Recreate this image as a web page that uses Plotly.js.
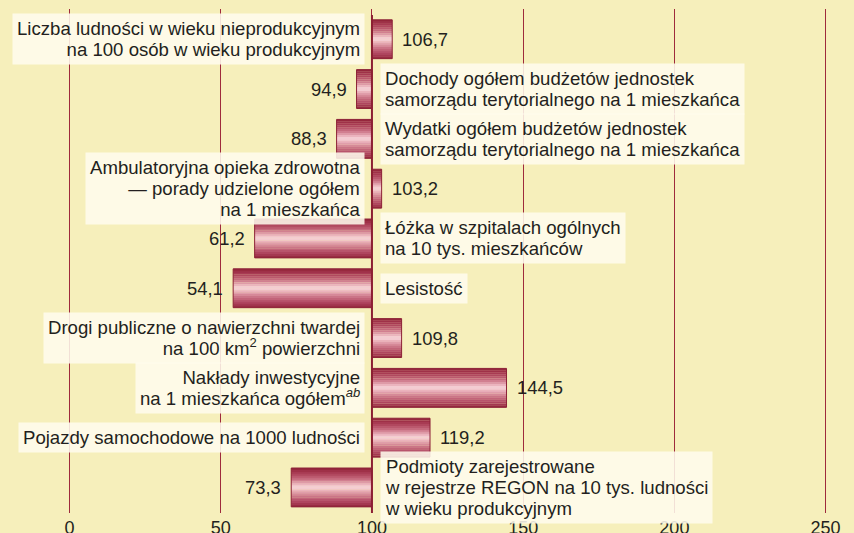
<!DOCTYPE html>
<html><head><meta charset="utf-8">
<script src="https://cdn.plot.ly/plotly-3.0.1.min.js"></script>
<style>html,body{margin:0;padding:0;background:#f6efbb}</style>
</head><body><div id="chart" style="width:854px;height:533px"></div>
<script>
// ---- data ----
const categories = [
  ['Liczba ludności w wieku nieprodukcyjnym', 'na 100 osób w wieku produkcyjnym'],
  ['Dochody ogółem budżetów jednostek', 'samorządu terytorialnego na 1 mieszkańca'],
  ['Wydatki ogółem budżetów jednostek', 'samorządu terytorialnego na 1 mieszkańca'],
  ['Ambulatoryjna opieka zdrowotna', '— porady udzielone ogółem', 'na 1 mieszkańca'],
  ['Łóżka w szpitalach ogólnych', 'na 10 tys. mieszkańców'],
  ['Lesistość'],
  ['Drogi publiczne o nawierzchni twardej', 'na 100 km<sup>2</sup> powierzchni'],
  ['Nakłady inwestycyjne', 'na 1 mieszkańca ogółem<sup><i>ab</i></sup>'],
  ['Pojazdy samochodowe na 1000 ludności'],
  ['Podmioty zarejestrowane', 'w rejestrze REGON na 10 tys. ludności', 'w wieku produkcyjnym']
];
const values = [106.7, 94.9, 88.3, 103.2, 61.2, 54.1, 109.8, 144.5, 119.2, 73.3];
const valueLabels = ['106,7', '94,9', '88,3', '103,2', '61,2', '54,1', '109,8', '144,5', '119,2', '73,3'];
const xTicks = [0, 50, 100, 150, 200, 250];
const baseValue = 100;

// ---- style ----
const FONT = 'Liberation Sans, Arial, sans-serif';
const GLYPH = 18.6;     // visible label font size
const LINE_BASE = 16.2; // base size that sets the line spacing
const BAR_W = 0.78;
const N = 20;
const stops = [
  [0.00, [146, 34, 56]],
  [0.15, [172, 64, 88]],
  [0.30, [202, 114, 132]],
  [0.42, [234, 178, 188]],
  [0.50, [247, 216, 220]],
  [0.58, [234, 176, 186]],
  [0.72, [204, 118, 136]],
  [0.87, [176, 70, 96]],
  [1.00, [148, 38, 60]]
];
function colorAt(t) {
  for (let i = 0; i < stops.length - 1; i++) {
    const [a, ca] = stops[i], [b, cb] = stops[i + 1];
    if (t >= a && t <= b) {
      const f = (t - a) / (b - a);
      const c = ca.map((v, k) => Math.round(v + (cb[k] - v) * f));
      return 'rgb(' + c.join(',') + ')';
    }
  }
  return 'rgb(' + stops[stops.length - 1][1].join(',') + ')';
}

const catKeys = categories.map(lines => lines.join(' '));
const diffs = values.map(v => v - baseValue);
const traces = [];
for (let i = 0; i < N; i++) {
  const t0 = i / N, t1 = (i + 1) / N;
  traces.push({
    type: 'bar', orientation: 'h',
    y: catKeys, x: diffs, base: baseValue,
    width: BAR_W / N + 0.004,
    offset: -BAR_W / 2 + t0 * BAR_W,
    marker: {color: colorAt((t0 + t1) / 2), line: {width: 0}},
    hoverinfo: 'skip', showlegend: false
  });
}
traces.push({
  type: 'bar', orientation: 'h',
  y: catKeys, x: diffs, base: baseValue,
  width: BAR_W, offset: -BAR_W / 2,
  marker: {color: 'rgba(0,0,0,0)', line: {width: 1, color: '#8c2236'}},
  hoverinfo: 'skip', showlegend: false
});

const annotations = [];
const txtColor = '#231f20';
categories.forEach((lines, i) => {
  const above = values[i] > baseValue;
  const txt = lines.map(l => '<span style="font-size:' + GLYPH + 'px">' + l + '</span>').join('<br>');
  annotations.push({
    x: baseValue, y: catKeys[i], xref: 'x', yref: 'y',
    text: txt, showarrow: false,
    xanchor: above ? 'right' : 'left',
    xshift: above ? -7 : 8,
    align: above ? 'right' : 'left',
    bgcolor: 'rgba(255,252,238,0.87)',
    borderpad: 4,
    font: {family: FONT, size: LINE_BASE, color: txtColor}
  });
  annotations.push({
    x: values[i], y: catKeys[i], xref: 'x', yref: 'y',
    text: valueLabels[i], showarrow: false,
    xanchor: above ? 'left' : 'right',
    xshift: above ? 8 : -8,
    font: {family: FONT, size: 18.4, color: txtColor}
  });
});

const layout = {
  width: 854, height: 533,
  margin: {l: 0, r: 0, t: 9, b: 20, pad: 0},
  paper_bgcolor: '#f6efbb', plot_bgcolor: '#f6efbb',
  barmode: 'overlay',
  xaxis: {
    range: [-23, 259.4], tickvals: xTicks, ticktext: xTicks.map(String),
    showgrid: true, gridcolor: '#9e2a3c', gridwidth: 1,
    zeroline: false, showline: false, ticks: '', ticklabelstandoff: 2,
    tickfont: {family: FONT, size: 18, color: txtColor},
    fixedrange: true
  },
  yaxis: {
    type: 'category', categoryorder: 'array', categoryarray: catKeys,
    range: [9.513, -0.607], showticklabels: false, showgrid: false,
    zeroline: false, showline: false, ticks: '', fixedrange: true
  },
  shapes: [{
    type: 'line', xref: 'x', yref: 'paper', x0: baseValue, x1: baseValue,
    y0: 0, y1: 0.988, line: {color: '#8c1f33', width: 2}
  }],
  annotations: annotations,
  font: {family: FONT, color: txtColor}
};

Plotly.newPlot('chart', traces, layout, {displayModeBar: false, staticPlot: true});
</script>
</body></html>
